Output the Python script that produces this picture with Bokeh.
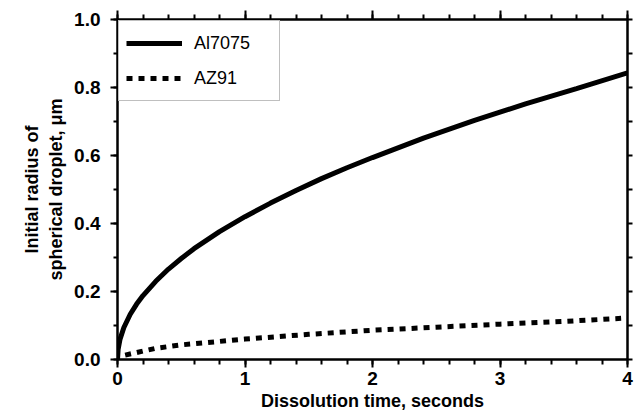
from bokeh.plotting import figure
from bokeh.models import (LinearAxis, SingleIntervalTicker, Range1d, Legend,
                          LegendItem, PrintfTickFormatter, CustomLabelingPolicy)
from bokeh.embed import file_html
from bokeh.resources import INLINE

# Data
time_al7075 = [0, 0.005, 0.02, 0.05, 0.1, 0.15, 0.2, 0.3, 0.4, 0.5, 0.6, 0.8,
               1.0, 1.2, 1.4, 1.6, 1.8, 2.0, 2.4, 2.8, 3.2, 3.6, 4.0]
radius_al7075 = [0, 0.03, 0.06, 0.094, 0.133, 0.163, 0.188, 0.23, 0.266, 0.297,
                 0.326, 0.376, 0.42, 0.46, 0.497, 0.532, 0.564, 0.594, 0.651,
                 0.703, 0.752, 0.797, 0.843]
time_az91 = [0.06, 0.3, 0.5, 1.0, 1.5, 2.0, 2.5, 3.0, 3.5, 3.95]
radius_az91 = [0.013, 0.033, 0.043, 0.06, 0.074, 0.086, 0.095, 0.104, 0.112, 0.121]

series_names = ["Al7075", "AZ91"]
x_label = "Dissolution time, seconds"
y_label = "Initial radius of\nspherical droplet, \u03bcm"

FONT = "Liberation Sans"

p = figure(width=640, height=415, output_backend="svg", toolbar_location=None,
           x_range=Range1d(0, 4), y_range=Range1d(0, 1.0),
           min_border_left=117, min_border_right=13, min_border_top=19,
           min_border_bottom=56, x_axis_label=x_label, y_axis_label=y_label)
p.grid.visible = False
p.outline_line_color = "black"
p.outline_line_width = 2
p.background_fill_color = "white"
p.border_fill_color = "white"

r1 = p.line(time_al7075, radius_al7075, line_color="black", line_width=5)
r2 = p.line(time_az91, radius_az91, line_color="black", line_width=5,
            line_dash="6 6")

def style_axis(ax):
    ax.axis_line_color = "black"
    ax.axis_line_width = 2
    ax.major_tick_line_color = "black"
    ax.major_tick_line_width = 2
    ax.minor_tick_line_color = "black"
    ax.minor_tick_line_width = 2
    ax.major_tick_in = 0
    ax.minor_tick_in = 0
    ax.major_label_text_font = FONT
    ax.major_label_text_font_style = "bold"
    ax.major_label_text_font_size = "19px"
    ax.major_label_text_color = "black"
    ax.axis_label_text_font = FONT
    ax.axis_label_text_font_style = "bold"
    ax.axis_label_text_font_size = "18px"
    ax.axis_label_text_color = "black"

hide_labels = CustomLabelingPolicy(code="""
    const all = [...indices]
    for (const i of all) indices.unset(i)
    return indices
""")

xa = p.xaxis[0]
style_axis(xa)
xa.ticker = SingleIntervalTicker(interval=1, num_minor_ticks=5)
xa.major_tick_out = 8
xa.minor_tick_out = 5
xa.major_label_standoff = 4
xa.axis_label_standoff = 3

ya = p.yaxis[0]
style_axis(ya)
ya.ticker = SingleIntervalTicker(interval=0.2, num_minor_ticks=2)
ya.formatter = PrintfTickFormatter(format="%.1f")
ya.major_tick_out = 7
ya.minor_tick_out = 4
ya.major_label_standoff = 10
ya.axis_label_standoff = 5

top = LinearAxis(ticker=SingleIntervalTicker(interval=1, num_minor_ticks=5))
style_axis(top)
top.major_tick_out = 9
top.minor_tick_out = 5
top.major_label_text_font_size = "1px"
top.major_label_standoff = 0
top.major_label_policy = hide_labels
p.add_layout(top, "above")

right = LinearAxis(ticker=SingleIntervalTicker(interval=0.1, num_minor_ticks=0))
style_axis(right)
right.major_tick_out = 5
right.major_label_text_font_size = "1px"
right.major_label_standoff = 0
right.major_label_policy = hide_labels
p.add_layout(right, "right")

legend = Legend(items=[LegendItem(label=series_names[0], renderers=[r1]),
                       LegendItem(label=series_names[1], renderers=[r2])],
                location="top_left", margin=1, padding=7, spacing=5,
                glyph_width=56, glyph_height=30, label_height=30,
                label_width=78, label_standoff=12,
                border_line_color="#808080", border_line_width=1,
                background_fill_color="white", background_fill_alpha=1,
                label_text_font=FONT, label_text_font_size="18px",
                label_text_color="black")
p.add_layout(legend, "center")

open("out.html", "w").write(file_html(p, INLINE))
